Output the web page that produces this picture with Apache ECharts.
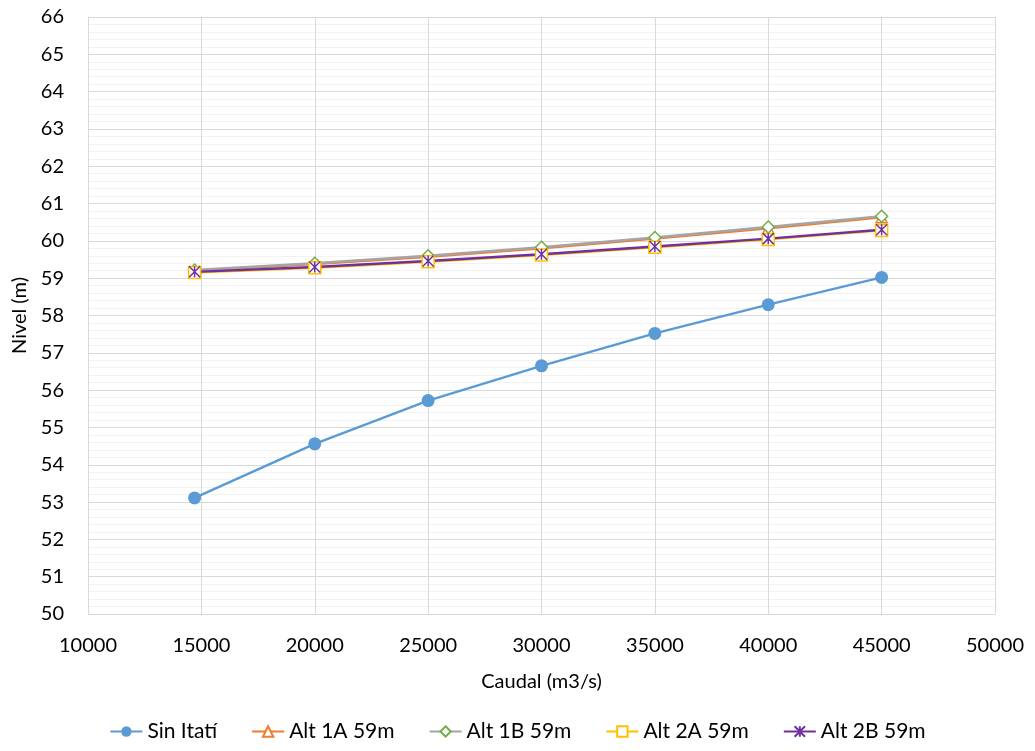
<!DOCTYPE html>
<html>
<head>
<meta charset="utf-8">
<script src="https://cdn.jsdelivr.net/npm/echarts@6/dist/echarts.min.js"></script>
<style>
  html, body { margin: 0; padding: 0; background: #fff; }
  #chart { width: 1035px; height: 751px; }
</style>
</head>
<body>
<div id="chart"></div>
<script>
// caudal values (m3/s)
const caudal = [14700, 20000, 25000, 30000, 35000, 40000, 45000];

// nivel (m) per scenario
const sinItati = [53.11, 54.56, 55.72, 56.65, 57.52, 58.29, 59.02];
const alt1A = [59.20, 59.38, 59.57, 59.80, 60.06, 60.34, 60.63];
const alt1B = [59.22, 59.40, 59.60, 59.83, 60.09, 60.37, 60.66];
const alt2A = [59.15, 59.28, 59.44, 59.62, 59.83, 60.04, 60.28];
const alt2B = [59.17, 59.30, 59.46, 59.64, 59.85, 60.06, 60.30];

const seriesNames = ["Sin Itatí", "Alt 1A 59m", "Alt 1B 59m", "Alt 2A 59m", "Alt 2B 59m"];

const font = "Lato, 'Open Sans', sans-serif";
const asterisk = "path://M0,0L10,10M10,0L0,10M5,0L5,10";

function pairs(values) {
    return caudal.map((x, i) => [x, values[i]]);
}

const chart = echarts.init(document.getElementById("chart"));

chart.setOption({
    animation: false,
    textStyle: { fontFamily: font },
    grid: { left: 88, right: 40, top: 17, bottom: 137 },
    legend: {
        bottom: 4,
        left: "center",
        itemWidth: 32,
        itemHeight: 13,
        itemGap: 34,
        textStyle: { fontSize: 21, color: "#000", fontFamily: font },
        data: seriesNames,
    },
    xAxis: {
        type: "value",
        min: 10000,
        max: 50000,
        interval: 5000,
        name: "Caudal (m3/s)",
        nameLocation: "middle",
        nameGap: 58,
        nameTextStyle: { fontSize: 20, color: "#000" },
        axisLine: { show: true, lineStyle: { color: "#D9D9D9" } },
        axisTick: { show: false },
        axisLabel: { fontSize: 20, color: "#000", margin: 22, formatter: (v) => String(v) },
        splitLine: { show: true, lineStyle: { color: "#D9D9D9" } },
    },
    yAxis: {
        type: "value",
        min: 50,
        max: 66,
        interval: 1,
        name: "Nivel (m)",
        nameLocation: "middle",
        nameGap: 58,
        nameTextStyle: { fontSize: 20, color: "#000" },
        axisLine: { show: true, lineStyle: { color: "#D9D9D9" } },
        axisTick: { show: false },
        axisLabel: { fontSize: 20, color: "#000", margin: 24 },
        splitLine: { show: true, lineStyle: { color: "#D9D9D9" } },
        minorTick: { show: false, splitNumber: 5 },
        minorSplitLine: { show: true, lineStyle: { color: "#F2F2F2" } },
    },
    series: [
        {
            name: seriesNames[0],
            type: "line",
            data: pairs(sinItati),
            symbol: "circle",
            symbolSize: 13,
            lineStyle: { width: 2.4, color: "#5B9BD5" },
            itemStyle: { color: "#5B9BD5" },
        },
        {
            name: seriesNames[1],
            type: "line",
            data: pairs(alt1A),
            symbol: "triangle",
            symbolSize: 11,
            lineStyle: { width: 2.4, color: "#ED7D31" },
            itemStyle: { color: "#fff", borderColor: "#ED7D31", borderWidth: 1.5 },
        },
        {
            name: seriesNames[2],
            type: "line",
            data: pairs(alt1B),
            symbol: "diamond",
            symbolSize: 12,
            lineStyle: { width: 2.4, color: "#A5A5A5" },
            itemStyle: { color: "#fff", borderColor: "#70AD47", borderWidth: 1.5 },
        },
        {
            name: seriesNames[3],
            type: "line",
            data: pairs(alt2A),
            symbol: "rect",
            symbolSize: 12,
            lineStyle: { width: 2.4, color: "#FFC000" },
            itemStyle: { color: "#fff", borderColor: "#FFC000", borderWidth: 1.5 },
        },
        {
            name: seriesNames[4],
            type: "line",
            data: pairs(alt2B),
            symbol: asterisk,
            symbolSize: 11,
            lineStyle: { width: 2.4, color: "#7030A0" },
            itemStyle: { color: "#7030A0", borderColor: "#7030A0", borderWidth: 1.5 },
        },
    ],
});
</script>
</body>
</html>
